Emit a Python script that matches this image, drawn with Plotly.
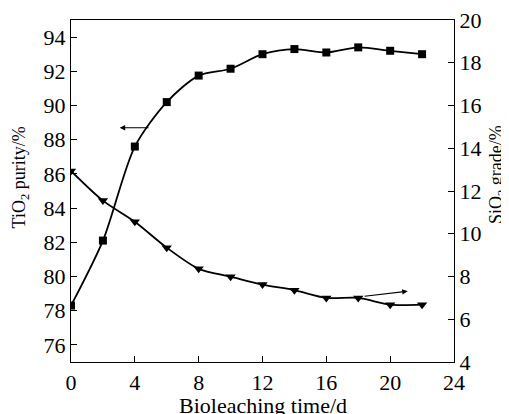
import plotly.graph_objects as go

days = [0, 2, 4, 6, 8, 10, 12, 14, 16, 18, 20, 22]
tio2_purity = [78.3, 82.1, 87.6, 90.2, 91.75, 92.15, 93.0, 93.3, 93.1, 93.4, 93.2, 93.0]
sio2_grade = [12.94, 11.55, 10.56, 9.35, 8.36, 7.99, 7.62, 7.36, 7.0, 7.0, 6.68, 6.68]

x_ticks = [0, 4, 8, 12, 16, 20, 24]
y_ticks = [76, 78, 80, 82, 84, 86, 88, 90, 92, 94]
y2_ticks = [4, 6, 8, 10, 12, 14, 16, 18, 20]

x_title = "Bioleaching time/d"
y_title = "TiO<sub>2</sub> purity/%"
y2_title = "SiO<sub>2</sub> grade/%"

# arrow annotations: (tail x, tail y) -> (head x, head y)
left_arrow = dict(tail=(4.95, 88.7), head=(3.05, 88.7))
right_arrow = dict(tail=(18.3, 7.07), head=(21.1, 7.31))

FONT = "Liberation Serif"

fig = go.Figure()
fig.add_trace(go.Scatter(
    x=days, y=tio2_purity, mode="lines+markers",
    line=dict(color="black", width=1.8, shape="spline", smoothing=0.8),
    marker=dict(symbol="square", size=8, color="black"),
    yaxis="y", showlegend=False))
fig.add_trace(go.Scatter(
    x=days, y=sio2_grade, mode="lines+markers",
    line=dict(color="black", width=1.8, shape="spline", smoothing=0.8),
    marker=dict(symbol="triangle-down", size=9, color="black"),
    yaxis="y2", showlegend=False))

fig.add_annotation(x=left_arrow["head"][0], y=left_arrow["head"][1],
                   ax=left_arrow["tail"][0], ay=left_arrow["tail"][1],
                   xref="x", yref="y", axref="x", ayref="y",
                   showarrow=True, arrowhead=2, arrowsize=1, arrowwidth=1.1,
                   arrowcolor="black", text="")
fig.add_annotation(x=right_arrow["head"][0], y=right_arrow["head"][1],
                   ax=right_arrow["tail"][0], ay=right_arrow["tail"][1],
                   xref="x", yref="y2", axref="x", ayref="y2",
                   showarrow=True, arrowhead=2, arrowsize=1, arrowwidth=1.1,
                   arrowcolor="black", text="")

# axis titles as text annotations
fig.add_annotation(text=x_title, xref="paper", yref="paper", x=0.5, y=-0.128,
                   xanchor="center", yanchor="middle", showarrow=False,
                   font=dict(family=FONT, size=22, color="black"))
fig.add_annotation(text=y_title, xref="paper", yref="paper", x=-0.133, y=0.54,
                   xanchor="center", yanchor="middle", showarrow=False, textangle=-90,
                   font=dict(family=FONT, size=18, color="black"))
fig.add_annotation(text=y2_title, xref="paper", yref="paper", x=1.115, y=0.547,
                   xanchor="center", yanchor="middle", showarrow=False, textangle=-90,
                   font=dict(family=FONT, size=18, color="black"))

axis_common = dict(showline=True, linecolor="black", linewidth=1.3,
                   ticks="inside", ticklen=6, tickwidth=1.2, tickcolor="black",
                   showgrid=False, zeroline=False, automargin=False,
                   ticklabeloverflow="allow",
                   tickfont=dict(family=FONT, size=22, color="black"))

# page body has an 8px margin, so the figure is sized/offset to compensate
fig.update_layout(
    width=501, height=406,
    margin=dict(l=63, r=55, t=12, b=52),
    paper_bgcolor="white", plot_bgcolor="white",
    font=dict(family=FONT, color="black"),
    xaxis=dict(range=[0, 24], tickvals=x_ticks, mirror=True, **axis_common),
    yaxis=dict(range=[75, 95], tickvals=y_ticks, **axis_common),
    yaxis2=dict(range=[4, 20], tickvals=y2_ticks, overlaying="y", side="right",
                **axis_common),
)

fig.write_html("out.html")
